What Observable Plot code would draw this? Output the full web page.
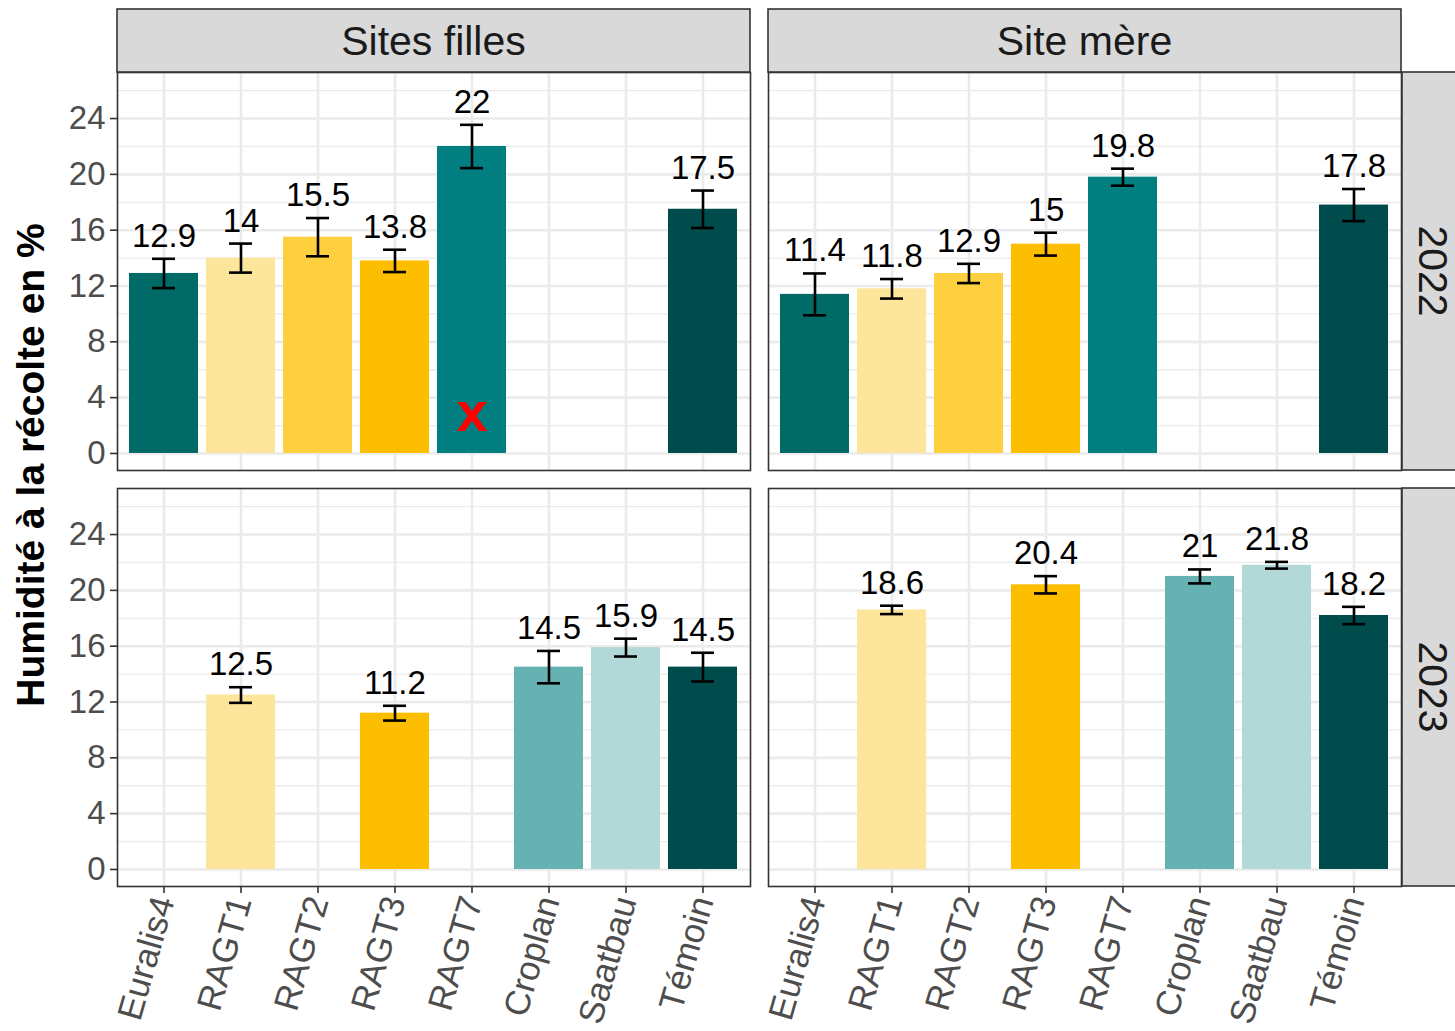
<!DOCTYPE html>
<html><head><meta charset="utf-8">
<script src="https://cdn.jsdelivr.net/npm/d3@7"></script>
<script src="https://cdn.jsdelivr.net/npm/@observablehq/plot@0.6"></script>
<style>
body{margin:0;background:#fff;font-family:"Liberation Sans",Arial,Helvetica,sans-serif;}
#chart{position:relative;width:1455px;height:1031px;overflow:hidden;}
</style></head><body><div id="chart"></div>
<script>
// ---- data ----
const varieties = ["Euralis4","RAGT1","RAGT2","RAGT3","RAGT7","Croplan","Saatbau","Témoin"];
const varietyColors = ["#006a67","#fde59c","#fed03f","#febe00","#017f80","#66b2b2","#b2d8d8","#004c4c"];
const sites = ["Sites filles","Site mère"];
const years = ["2022","2023"];
const yTicks = [0,4,8,12,16,20,24];
const yMinor = [2,6,10,14,18,22,26];
const yTitle = "Humidité à la récolte en %";
// means and error half-widths, in the order of `varieties` (null = not present)
const meanFilles2022 = [12.9,14,15.5,13.8,22,null,null,17.5];
const errFilles2022  = [1.05,1.04,1.37,0.8,1.55,null,null,1.34];
const meanMere2022   = [11.4,11.8,12.9,15,19.8,null,null,17.8];
const errMere2022    = [1.5,0.7,0.69,0.82,0.61,null,null,1.15];
const meanFilles2023 = [null,12.5,null,11.2,null,14.5,15.9,14.5];
const errFilles2023  = [null,0.56,null,0.53,null,1.16,0.64,1.03];
const meanMere2023   = [null,18.6,null,20.4,null,21,21.8,18.2];
const errMere2023    = [null,0.3,null,0.62,null,0.5,0.24,0.62];
// red cross annotation
const crossSite = "Sites filles", crossYear = "2022", crossVariety = "RAGT7", crossValue = 2.9, crossLabel = "x";

// ---- build table ----
const panels = [
  [sites[0], years[0], meanFilles2022, errFilles2022],
  [sites[1], years[0], meanMere2022, errMere2022],
  [sites[0], years[1], meanFilles2023, errFilles2023],
  [sites[1], years[1], meanMere2023, errMere2023]
];
const rows = panels.flatMap(([site, year, m, e]) =>
  varieties.map((v, i) => ({site, year, variety: v, value: m[i], err: e[i]})).filter(d => d.value != null));
const cross = [{site: crossSite, year: crossYear, variety: crossVariety, value: crossValue, label: crossLabel}];

// ---- layout ----
const W = 1455, H = 1031, ML = 116, MR = 53, MT = 72, MB = 145;
const FXPAD = 0.0276, FYPAD = 0.0433;
const FONT = '"Liberation Sans", Arial, Helvetica, sans-serif';

const plot = Plot.plot({
  width: W, height: H, marginLeft: ML, marginRight: MR, marginTop: MT, marginBottom: MB,
  style: {fontFamily: FONT, background: "white", overflow: "visible"},
  fx: {domain: sites, paddingInner: FXPAD, paddingOuter: 0, axis: null, label: null},
  fy: {domain: years, paddingInner: FYPAD, paddingOuter: 0, axis: null, label: null},
  x: {domain: varieties, paddingInner: 0.1, paddingOuter: 0.15, label: null},
  y: {domain: [-1.22, 27.3], label: null},
  color: {domain: varieties, range: varietyColors},
  marks: [
    Plot.gridY(yMinor, {stroke: "#EBEBEB", strokeOpacity: 1, strokeWidth: 1.3}),
    Plot.gridY(yTicks, {stroke: "#EBEBEB", strokeOpacity: 1, strokeWidth: 2.6}),
    Plot.gridX({stroke: "#EBEBEB", strokeOpacity: 1, strokeWidth: 2.6}),
    Plot.barY(rows, {fx: "site", fy: "year", x: "variety", y: "value", fill: "variety"}),
    Plot.ruleX(rows, {fx: "site", fy: "year", x: "variety", y1: d => d.value - d.err, y2: d => d.value + d.err, stroke: "black", strokeWidth: 2.6}),
    Plot.tickY(rows, {fx: "site", fy: "year", x: "variety", y: d => d.value + d.err, stroke: "black", strokeWidth: 2.6, insetLeft: 23, insetRight: 23}),
    Plot.tickY(rows, {fx: "site", fy: "year", x: "variety", y: d => d.value - d.err, stroke: "black", strokeWidth: 2.6, insetLeft: 23, insetRight: 23}),
    Plot.text(rows, {fx: "site", fy: "year", x: "variety", y: d => d.value + d.err, text: d => String(d.value), lineAnchor: "bottom", dy: -12, fontSize: 33, fill: "black"}),
    Plot.text(cross, {fx: "site", fy: "year", x: "variety", y: "value", text: "label", fill: "red", fontWeight: "bold", fontSize: 56}),
    Plot.frame({stroke: "#333333", strokeWidth: 1.6}),
    Plot.axisY(yTicks, {fontSize: 33, tickSize: 7, tickPadding: 5, color: "#4D4D4D", stroke: "#333333", strokeWidth: 1.6, label: null}),
    Plot.axisX({fontSize: 35, tickSize: 7, tickPadding: 4, tickRotate: -74, color: "#4D4D4D", stroke: "#333333", strokeWidth: 1.6, label: null})
  ]
});
document.getElementById("chart").appendChild(plot);

// ---- strips and y title ----
const svg = d3.select(plot);
let fxS = null, fyS = null;
try { fxS = plot.scale("fx"); fyS = plot.scale("fy"); } catch (e) {}
const stepX = (W - ML - MR) / (2 - FXPAD), bwX = stepX * (1 - FXPAD);
const stepY = (H - MT - MB) / (2 - FYPAD), bwY = stepY * (1 - FYPAD);
const fxPos = v => fxS && fxS.apply ? fxS.apply(v) : ML + sites.indexOf(v) * stepX;
const fyPos = v => fyS && fyS.apply ? fyS.apply(v) : MT + years.indexOf(v) * stepY;
const fxBw = fxS && fxS.bandwidth ? fxS.bandwidth : bwX;
const fyBw = fyS && fyS.bandwidth ? fyS.bandwidth : bwY;
const STRIP = 63;
const g = svg.append("g").attr("font-family", FONT);
sites.forEach(s => {
  const x0 = fxPos(s);
  g.append("rect").attr("x", x0).attr("y", MT - STRIP).attr("width", fxBw).attr("height", STRIP)
    .attr("fill", "#D9D9D9").attr("stroke", "#333333").attr("stroke-width", 1.6);
  g.append("text").attr("x", x0 + fxBw / 2).attr("y", MT - STRIP / 2).attr("dy", "0.35em")
    .attr("text-anchor", "middle").attr("font-size", 41).attr("fill", "#1A1A1A").text(s);
});
years.forEach(y => {
  const y0 = fyPos(y);
  const xr = W - MR;
  g.append("rect").attr("x", xr).attr("y", y0).attr("width", STRIP).attr("height", fyBw)
    .attr("fill", "#D9D9D9").attr("stroke", "#333333").attr("stroke-width", 1.6);
  g.append("text").attr("transform", `translate(${xr + STRIP / 2},${y0 + fyBw / 2}) rotate(90)`).attr("dy", "0.35em")
    .attr("text-anchor", "middle").attr("font-size", 41).attr("fill", "#1A1A1A").text(y);
});
g.append("text").attr("transform", `translate(30,${MT + (H - MT - MB) / 2 - 14}) rotate(-90)`).attr("dy", "0.35em")
  .attr("text-anchor", "middle").attr("font-size", 39).attr("font-weight", "bold").attr("fill", "black").text(yTitle);
</script></body></html>
